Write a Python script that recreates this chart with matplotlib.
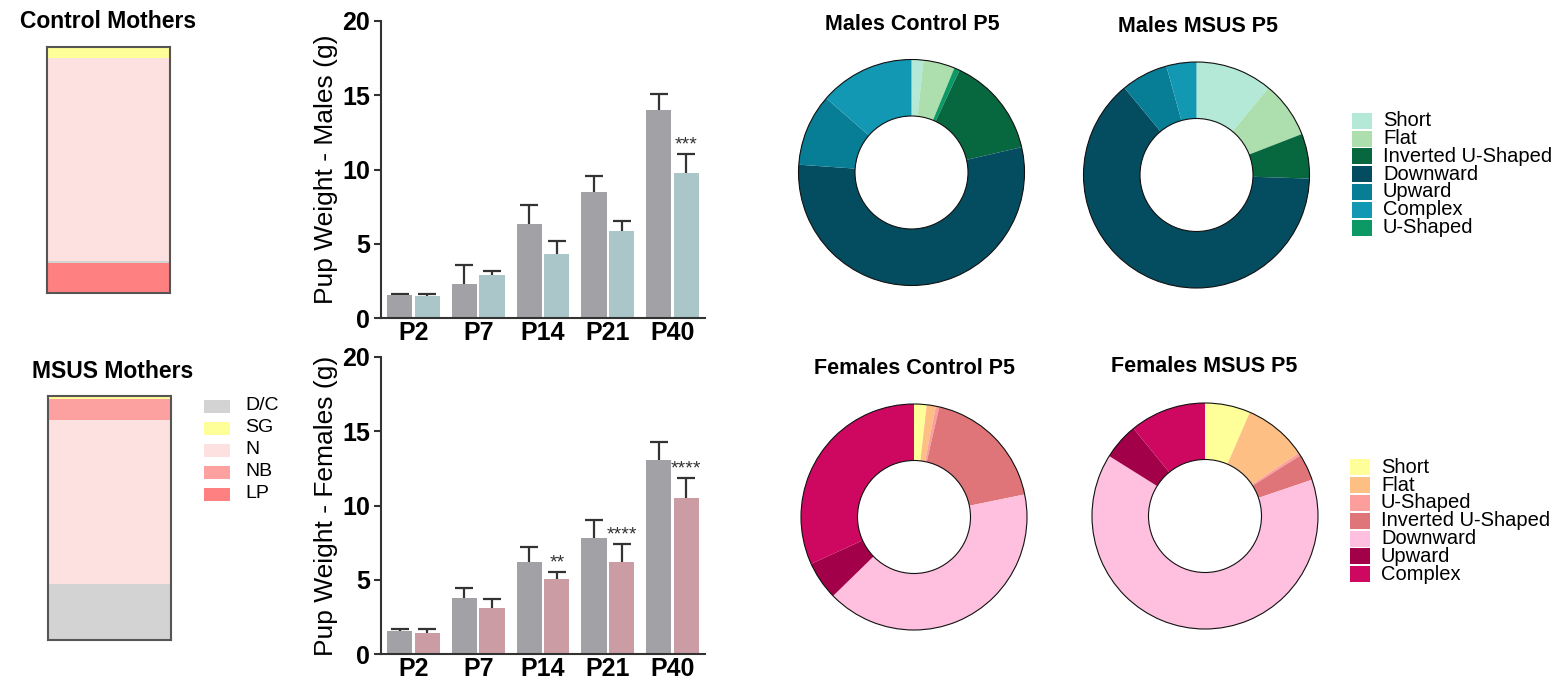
import numpy as np
import matplotlib
matplotlib.use('Agg')
import matplotlib.pyplot as plt
from matplotlib.patches import Rectangle

plt.rcParams['font.family'] = ['Liberation Sans', 'DejaVu Sans']

W, H = 1561, 681

# --- mothers (stacked %) ---
mother_cats = ['LP', 'D/C', 'N', 'NB', 'SG']          # bottom -> top
control_mothers = [12.2, 1.0, 82.4, 0.0, 4.4]
msus_mothers = [0.0, 23.1, 67.1, 8.4, 1.4]
mother_legend = ['D/C', 'SG', 'N', 'NB', 'LP']
mother_colors = {'D/C': '#d3d3d3', 'SG': '#ffff99', 'N': '#fde0e0',
                 'NB': '#fda0a0', 'LP': '#ff8080'}

# --- pup weights ---
days = ['P2', 'P7', 'P14', 'P21', 'P40']
male_ctrl = [1.53, 2.27, 6.31, 8.47, 14.0]
male_ctrl_sem = [0.11, 1.28, 1.29, 1.10, 1.06]
male_msus = [1.46, 2.88, 4.29, 5.84, 9.75]
male_msus_sem = [0.18, 0.29, 0.90, 0.70, 1.28]
male_stars = ['', '', '', '', '***']
fem_ctrl = [1.55, 3.78, 6.20, 7.80, 13.08]
fem_ctrl_sem = [0.16, 0.69, 0.99, 1.19, 1.19]
fem_msus = [1.39, 3.10, 5.06, 6.20, 10.49]
fem_msus_sem = [0.27, 0.59, 0.49, 1.22, 1.35]
fem_stars = ['', '', '**', '****', '****']

# --- P5 shape distributions (%), pie order clockwise from top ---
shapes = ['Short', 'Flat', 'U-Shaped', 'Inverted U-Shaped', 'Downward', 'Upward', 'Complex']
males_ctrl_pct = [1.7, 4.5, 0.8, 14.4, 54.7, 10.3, 13.6]
males_msus_pct = [11.0, 8.1, 0.0, 6.4, 63.5, 6.7, 4.3]
fem_ctrl_pct = [1.8, 1.3, 0.5, 18.2, 40.9, 5.5, 31.8]
fem_msus_pct = [6.5, 9.1, 0.4, 3.8, 64.1, 5.2, 10.9]
male_legend = ['Short', 'Flat', 'Inverted U-Shaped', 'Downward', 'Upward', 'Complex', 'U-Shaped']
fem_legend = ['Short', 'Flat', 'U-Shaped', 'Inverted U-Shaped', 'Downward', 'Upward', 'Complex']
male_colors = {'Short': '#b3e9d6', 'Flat': '#addfae', 'U-Shaped': '#0c9966',
               'Inverted U-Shaped': '#076840', 'Downward': '#044d60',
               'Upward': '#077d96', 'Complex': '#1398b4'}
fem_colors = {'Short': '#ffff99', 'Flat': '#fdbf84', 'U-Shaped': '#fc9f9c',
              'Inverted U-Shaped': '#df7579', 'Downward': '#ffbfdf',
              'Upward': '#a20048', 'Complex': '#ce0760'}


def box(x0, y0, x1, y1):
    return [x0 / W, 1 - y1 / H, (x1 - x0) / W, (y1 - y0) / H]


fig = plt.figure(figsize=(W / 100, H / 100), dpi=100)


def mothers(rect, vals, title, tx, ty):
    ax = fig.add_axes(rect)
    bottom = 0
    for cat, v in zip(mother_cats, vals):
        ax.bar(0, v, width=1, bottom=bottom, color=mother_colors[cat], linewidth=0)
        bottom += v
    ax.set_xlim(-0.5, 0.5)
    ax.set_ylim(0, 100)
    ax.set_xticks([])
    ax.set_yticks([])
    for s in ax.spines.values():
        s.set_color('#555555')
        s.set_linewidth(1.5)
    fig.text(tx / W, 1 - ty / H, title, ha='center', va='center',
             fontsize=16.5, fontweight='bold')


mothers(box(47, 47, 170, 293), control_mothers, 'Control Mothers', 108, 22)
mothers(box(48, 396, 171, 640), msus_mothers, 'MSUS Mothers', 113, 372)

for i, cat in enumerate(mother_legend):
    yc = 406 + i * 22
    fig.add_artist(Rectangle((204 / W, 1 - (yc + 6.5) / H), 26 / W, 13 / H,
                             transform=fig.transFigure, color=mother_colors[cat], lw=0))
    fig.text(245 / W, 1 - yc / H, cat, ha='left', va='center', fontsize=14)


def weights(rect, ctrl, csem, msus, msem, stars, col, ylabel):
    ax = fig.add_axes(rect)
    x = np.arange(len(days))
    off, bw = 0.213, 0.386
    ax.bar(x - off, ctrl, width=bw, color='#a2a2a6', linewidth=0, zorder=2)
    ax.bar(x + off, msus, width=bw, color=col, linewidth=0, zorder=2)
    for xs, m, e in ((x - off, ctrl, csem), (x + off, msus, msem)):
        eb = ax.errorbar(xs, m, yerr=[np.zeros(len(m)), e], fmt='none',
                         ecolor='#333333', elinewidth=1.6, capsize=6.5, capthick=1.6, zorder=1)
        eb[1][0].set_visible(False)   # keep only the upper cap
    for xi, m, e, s in zip(x, msus, msem, stars):
        if s:
            ax.text(xi + off, m + e + 0.6, s, ha='center', va='center',
                    fontsize=14, color='#333333')
    ax.set_xlim(-0.5, 4.5)
    ax.set_ylim(0, 20)
    ax.set_yticks([0, 5, 10, 15, 20])
    ax.set_xticks(x)
    ax.set_xticklabels(days)
    ax.tick_params(axis='x', length=0, pad=2)
    ax.tick_params(axis='y', length=5, width=1.5, color='#333333', pad=3)
    for lab in ax.get_xticklabels() + ax.get_yticklabels():
        lab.set_fontsize(18)
        lab.set_fontweight('bold')
    ax.spines['top'].set_visible(False)
    ax.spines['right'].set_visible(False)
    for s in ('left', 'bottom'):
        ax.spines[s].set_color('#333333')
        ax.spines[s].set_linewidth(1.5)
    ax.set_ylabel(ylabel, fontsize=19, labelpad=3)


weights(box(381, 21, 705, 318), male_ctrl, male_ctrl_sem, male_msus, male_msus_sem,
        male_stars, '#aac6c9', 'Pup Weight - Males (g)')
weights(box(381, 357, 705, 654), fem_ctrl, fem_ctrl_sem, fem_msus, fem_msus_sem,
        fem_stars, '#cb9ca3', 'Pup Weight - Females (g)')


def donut(cx, cy, vals, colors, title, tx, ty):
    r = 113 * 1.05
    ax = fig.add_axes(box(cx - r, cy - r, cx + r, cy + r))
    ax.pie(vals, colors=[colors[s] for s in shapes], startangle=90, counterclock=False,
           radius=1, wedgeprops=dict(width=0.5, linewidth=0))
    ax.pie([1], radius=1, colors=['none'],
           wedgeprops=dict(width=0.5, fill=False, edgecolor='#111111', linewidth=0.8))
    ax.set_xlim(-1.05, 1.05)
    ax.set_ylim(-1.05, 1.05)
    ax.set_aspect('equal')
    ax.axis('off')
    fig.text(tx / W, 1 - ty / H, title, ha='center', va='center',
             fontsize=15.5, fontweight='bold')


donut(911.5, 172.5, males_ctrl_pct, male_colors, 'Males Control P5', 912, 24)
donut(1196.5, 175, males_msus_pct, male_colors, 'Males MSUS P5', 1198, 27)
donut(914, 517, fem_ctrl_pct, fem_colors, 'Females Control P5', 914, 368)
donut(1205, 516, fem_msus_pct, fem_colors, 'Females MSUS P5', 1204, 367)


def shape_legend(x, y0, names, colors):
    for i, n in enumerate(names):
        yc = y0 + i * 17.8
        fig.add_artist(Rectangle((x / W, 1 - (yc + 8) / H), 20 / W, 16 / H,
                                 transform=fig.transFigure, color=colors[n], lw=0))
        fig.text((x + 31) / W, 1 - yc / H, n, ha='left', va='center', fontsize=14.5)


shape_legend(1352, 120.7, male_legend, male_colors)
shape_legend(1350, 467.3, fem_legend, fem_colors)

fig.savefig('out.png', dpi=100)
